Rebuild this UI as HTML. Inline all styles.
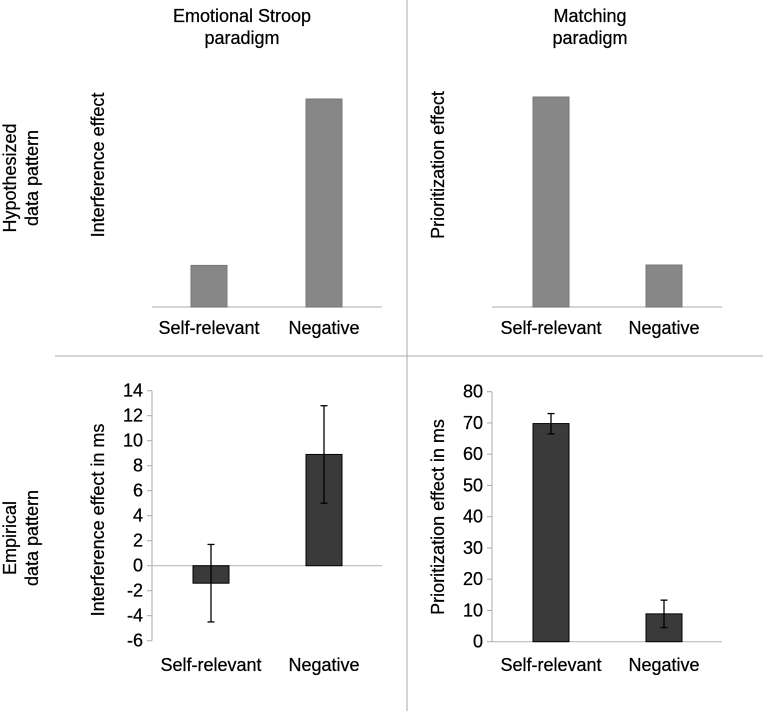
<!DOCTYPE html>
<html><head><meta charset="utf-8"><style>
body{margin:0;background:#fff;}
svg{display:block;font-family:"Liberation Sans",Arial,sans-serif;}
text{stroke:#000;stroke-width:0.25px;}
</style></head><body>
<svg id="fig" width="763" height="711" viewBox="0 0 763 711">
<line x1="55" y1="356" x2="763" y2="356" stroke="#aaa" stroke-width="1"/>
<line x1="407" y1="0" x2="407" y2="711" stroke="#aaa" stroke-width="1"/>
<text x="242" y="22" font-size="18" text-anchor="middle">Emotional Stroop</text>
<text x="242" y="44" font-size="18" text-anchor="middle">paradigm</text>
<text x="590" y="22" font-size="18" text-anchor="middle">Matching</text>
<text x="590" y="44" font-size="18" text-anchor="middle">paradigm</text>
<text transform="translate(16,178) rotate(-90)" font-size="18" text-anchor="middle">Hypothesized</text>
<text transform="translate(38,178) rotate(-90)" font-size="18" text-anchor="middle">data pattern</text>
<text transform="translate(16,538) rotate(-90)" font-size="18" text-anchor="middle">Empirical</text>
<text transform="translate(38,538) rotate(-90)" font-size="18" text-anchor="middle">data pattern</text>
<g id="charts"></g>
</svg>
<script>
const categories = ["Self-relevant","Negative"];
const hypStroop = [2, 10];
const hypMatching = [10, 2];
const empStroop = [-1.4, 8.9];
const empStroopLow = [-4.5, 5.0];
const empStroopHigh = [1.7, 12.8];
const empMatching = [69.8, 8.9];
const empMatchingLow = [66.5, 4.5];
const empMatchingHigh = [73, 13.3];
const stroopTicks = [-6,-4,-2,0,2,4,6,8,10,12,14];
const matchingTicks = [0,10,20,30,40,50,60,70,80];

const NS = "http://www.w3.org/2000/svg";
const root = document.getElementById("charts");
function mk(tag, attrs, parent, name){
  const e = document.createElementNS(NS, tag);
  for (const k in attrs) e.setAttribute(k, attrs[k]);
  
  
  (parent||root).appendChild(e);
  return e;
}
function chart(o){
  const g = mk("g", {}, root, o.name);
  const y = v => o.y0 + (v - o.min) / (o.max - o.min) * (o.y1 - o.y0);
  const x = i => o.barX[i];
  mk("line", {x1:o.axX, x2:o.axEnd, y1:y(0), y2:y(0), stroke:"#bbb","stroke-width":1.2}, g, "zero-line");
  if (o.ticks){
    mk("line", {x1:o.axX, x2:o.axX, y1:y(o.min), y2:y(o.max), stroke:"#aaa","stroke-width":1}, g, "y-axis-line");
    o.ticks.forEach(t=>{
      mk("line",{x1:o.axX-5,x2:o.axX,y1:y(t),y2:y(t),stroke:"#aaa","stroke-width":1},g,"y-tick");
      const tx = mk("text",{x:o.axX-9,y:y(t)+6,"font-size":18,"text-anchor":"end"},g,"y-tick-label");
      tx.textContent = t;
    });
  }
  o.vals.forEach((v,i)=>{
    const top = Math.min(y(v), y(0)), h = Math.abs(y(v)-y(0));
    mk("rect",{x:x(i),y:top,width:36,height:h,fill:o.fill,stroke:o.stroke,"stroke-width":1},g,"bar-"+categories[i].toLowerCase());
    if (o.lo){
      const cx = x(i)+18;
      mk("line",{x1:cx,x2:cx,y1:y(o.lo[i]),y2:y(o.hi[i]),stroke:"#000","stroke-width":1.3},g,"error-bar");
      mk("line",{x1:cx-3.5,x2:cx+3.5,y1:y(o.lo[i]),y2:y(o.lo[i]),stroke:"#000","stroke-width":1.3},g,"error-cap-low");
      mk("line",{x1:cx-3.5,x2:cx+3.5,y1:y(o.hi[i]),y2:y(o.hi[i]),stroke:"#000","stroke-width":1.3},g,"error-cap-high");
    }
    const lab = mk("text",{x:x(i)+18,y:o.labY,"font-size":18,"text-anchor":"middle"},g,"x-label");
    lab.textContent = categories[i];
  });
  const t = mk("text",{transform:`translate(${o.titleX},${o.titleY}) rotate(-90)`,"font-size":18,"text-anchor":"middle"},g,"y-axis-title");
  t.textContent = o.title;
}
chart({name:"hyp-stroop-chart",min:0,max:10,y0:307,y1:99,axX:152,axEnd:382,barX:[191,306],vals:hypStroop,fill:"#878787",stroke:"#777",labY:334,title:"Interference effect",titleX:104,titleY:165});
chart({name:"hyp-matching-chart",min:0,max:10,y0:307,y1:97,axX:492,axEnd:722,barX:[533,646],vals:hypMatching,fill:"#878787",stroke:"#777",labY:334,title:"Prioritization effect",titleX:444,titleY:165});
chart({name:"emp-stroop-chart",min:-6,max:14,y0:640.7,y1:390.7,axX:152,axEnd:382,barX:[193,306],vals:empStroop,lo:empStroopLow,hi:empStroopHigh,ticks:stroopTicks,fill:"#3a3a3a",stroke:"#000",labY:671,title:"Interference effect in ms",titleX:104,titleY:520});
chart({name:"emp-matching-chart",min:0,max:80,y0:641.7,y1:391.7,axX:492,axEnd:722,barX:[533,646],vals:empMatching,lo:empMatchingLow,hi:empMatchingHigh,ticks:matchingTicks,fill:"#3a3a3a",stroke:"#000",labY:671,title:"Prioritization effect in ms",titleX:444,titleY:517});
</script>
</body></html>
